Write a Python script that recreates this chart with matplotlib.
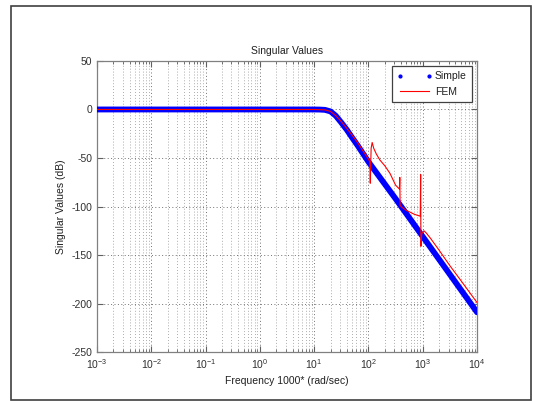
import matplotlib.pyplot as plt
from matplotlib.lines import Line2D
from matplotlib.patches import Rectangle
from matplotlib.ticker import LogLocator, NullFormatter

plt.rcParams['font.family'] = ['Liberation Sans', 'DejaVu Sans']
plt.rcParams['mathtext.fontset'] = 'custom'
plt.rcParams['mathtext.rm'] = 'Liberation Sans'
plt.rcParams['mathtext.it'] = 'Liberation Sans'
plt.rcParams['axes.unicode_minus'] = False

# simple model singular values
simple_freq = [1e-3, 1e-2, 1e-1, 1, 10, 12.6, 15.8, 20, 25, 31.6, 40, 50, 63, 100, 316, 1000, 3162, 10000]
simple_db = [0, 0, 0, 0, -0.02, -0.1, -0.4, -2, -6.5, -13.5, -21, -29, -37, -54, -92, -131, -170, -209]

# FEM model singular values
fem_freq = [1e-3, 1e-2, 1e-1, 1, 10, 15.8, 20, 25, 31.6, 40, 50, 63, 80, 100, 106, 108, 112, 117,
            125, 140, 162, 200, 250, 316, 372, 378, 383, 420, 500, 700, 900, 915, 925, 960,
            1050, 1150, 1400, 2000, 3162, 5000, 10000]
fem_db = [0, 0, 0, 0, 0, -0.4, -2, -6.3, -12.5, -19.5, -26.5, -34, -43, -51, -54, -76, -40, -34,
          -40, -46, -52, -58, -66, -78, -82, -70, -99, -101, -104, -108, -110, -67, -141, -128,
          -125, -127, -133, -145, -161, -176, -199]

fig = plt.figure(figsize=(5.33, 4.01), dpi=100)
ax = fig.add_axes([0.182, 0.122, 0.713, 0.726])

ax.semilogx(simple_freq, simple_db, color='blue', lw=4.2, solid_capstyle='round', zorder=3)
ax.semilogx(fem_freq, fem_db, color='red', lw=0.8, zorder=4)

ax.set_xlim(1e-3, 1e4)
ax.set_ylim(-250, 50)
ax.set_yticks(range(-250, 51, 50))
ax.xaxis.set_major_locator(LogLocator(base=10, numticks=20))
ax.xaxis.set_minor_locator(LogLocator(base=10, subs=range(2, 10), numticks=200))
ax.xaxis.set_minor_formatter(NullFormatter())

ax.grid(True, which='major', linestyle=(0, (1, 2.5)), color='#707070', lw=0.7)
ax.grid(True, which='minor', axis='x', linestyle=(0, (1, 2.5)), color='#909090', lw=0.6)

ax.tick_params(which='both', direction='in', top=True, right=True,
               labelsize=7.5, colors='#606060', labelcolor='#303030')
ax.tick_params(which='major', length=4)
ax.tick_params(which='minor', length=2)
for s in ax.spines.values():
    s.set_color('#808080')
    s.set_linewidth(0.9)

ax.set_title('Singular Values', fontsize=7.5, color='#202020', pad=5)
ax.set_xlabel('Frequency 1000* (rad/sec)', fontsize=7.5, color='#202020', labelpad=4)
ax.set_ylabel('Singular Values (dB)', fontsize=7.5, color='#202020', labelpad=4)

handles = [Line2D([], [], color='blue', marker='.', markersize=4, linestyle='none'),
           Line2D([], [], color='red', lw=0.8)]
leg = ax.legend(handles, ['Simple', 'FEM'], loc='upper right', numpoints=2,
                fontsize=7.5, fancybox=False, framealpha=1, edgecolor='#404040',
                handlelength=3.4, handletextpad=0.25, borderaxespad=0.5,
                borderpad=0.5, labelspacing=0.5)
leg.get_frame().set_linewidth(0.9)
for t in leg.get_texts():
    t.set_color('#202020')

# border around the whole figure
fig.patches.append(Rectangle((11 / 533, 1 / 401), 520 / 533, 394 / 401, transform=fig.transFigure,
                             fill=False, edgecolor='#404040', lw=1.2))

fig.savefig('out.png', dpi=100)
